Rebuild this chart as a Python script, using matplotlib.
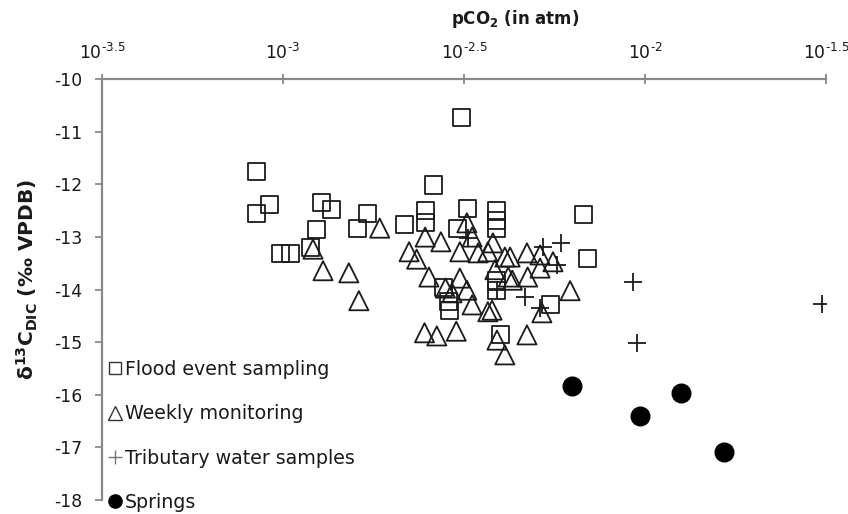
import matplotlib
matplotlib.use("Agg")
import matplotlib.pyplot as plt
from matplotlib.lines import Line2D

plt.rcParams['font.family'] = ['DejaVu Sans']
plt.rcParams['mathtext.fontset'] = 'dejavusans'
plt.rcParams['axes.unicode_minus'] = False

# ---- data (pCO2 in atm, delta13C_DIC in permil VPDB) ----
flood_pco2 = [0.00312, 0.000847, 0.000920, 0.000847, 0.00128, 0.00136, 0.00124,
              0.000982, 0.00105, 0.00119, 0.00171, 0.00161, 0.00217, 0.00261,
              0.00247, 0.00247, 0.00304, 0.00324, 0.00390, 0.00390, 0.00390,
              0.00675, 0.00692, 0.00277, 0.00286, 0.00289, 0.00390, 0.00390,
              0.00547, 0.00400]
flood_d13c = [-10.72, -11.76, -12.39, -12.56, -12.35, -12.47, -12.86,
              -13.32, -13.32, -13.19, -12.56, -12.83, -12.77, -12.01,
              -12.50, -12.73, -12.83, -12.45, -12.50, -12.69, -12.83,
              -12.58, -13.40, -13.95, -14.23, -14.39, -13.82, -14.01,
              -14.29, -14.86]

weekly_pco2 = [0.00185, 0.00121, 0.00129, 0.00152, 0.00162, 0.00223, 0.00234,
               0.00247, 0.00273, 0.00253, 0.00246, 0.00266, 0.00301, 0.00322,
               0.00333, 0.00308, 0.00346, 0.00380, 0.00368, 0.00410, 0.00308,
               0.00281, 0.00293, 0.00322, 0.00333, 0.00368, 0.00385, 0.00419,
               0.00424, 0.00472, 0.00513, 0.00557, 0.00474, 0.00430, 0.00513,
               0.00621, 0.00472, 0.00519, 0.00410, 0.00390, 0.00378]
weekly_d13c = [-12.83, -13.23, -13.64, -13.68, -14.21, -13.28, -13.42,
               -13.00, -13.09, -13.76, -14.82, -14.88, -14.79, -12.73,
               -13.00, -13.28, -13.30, -13.11, -13.28, -13.38, -13.78,
               -13.97, -14.06, -14.01, -14.29, -14.42, -13.62, -13.76,
               -13.38, -13.30, -13.34, -13.47, -13.76, -13.82, -13.59,
               -14.02, -14.86, -14.44, -15.24, -14.96, -14.39]

trib_pco2 = [0.00586, 0.00522, 0.00571, 0.00467, 0.00513, 0.00390, 0.00927,
             0.00951, 0.0308, 0.00324]
trib_d13c = [-13.11, -13.19, -13.53, -14.14, -14.35, -14.01, -13.85,
             -15.01, -14.27, -13.02]

spring_pco2 = [0.00628, 0.00968, 0.01256, 0.01652]
spring_d13c = [-15.83, -16.40, -15.96, -17.09]

series_labels = ["Flood event sampling", "Weekly monitoring",
                 "Tributary water samples", "Springs"]

x_tick_exps = [-3.5, -3, -2.5, -2, -1.5]
x_tick_labels = [r"10$^{\text{-3.5}}$", r"10$^{\text{-3}}$", r"10$^{\text{-2.5}}$",
                 r"10$^{\text{-2}}$", r"10$^{\text{-1.5}}$"]
y_ticks = [-10, -11, -12, -13, -14, -15, -16, -17, -18]

# ---- figure ----
W, H = 848, 514
fig = plt.figure(figsize=(W / 100, H / 100), dpi=100)
ax = fig.add_axes([102 / W, 1 - 500 / H, (826 - 102) / W, (500 - 79.3) / H])

ink = '#1a1a1a'
ax.scatter(flood_pco2, flood_d13c, marker='s', s=150, facecolors='none',
           edgecolors=ink, linewidths=1.3, zorder=3)
ax.scatter(weekly_pco2, weekly_d13c, marker='^', s=190, facecolors='none',
           edgecolors=ink, linewidths=1.3, zorder=3)
ax.scatter(trib_pco2, trib_d13c, marker='+', s=165, color=ink,
           linewidths=1.3, zorder=3)
ax.scatter(spring_pco2, spring_d13c, marker='o', s=180, color='black',
           edgecolors='black', zorder=3)

ax.set_xscale('log')
ax.set_xlim(10 ** -3.5, 10 ** -1.5)
ax.set_ylim(-18, -10)
ax.xaxis.set_ticks_position('top')
ax.set_xticks([10 ** e for e in x_tick_exps])
ax.set_xticklabels(x_tick_labels)
ax.xaxis.set_minor_locator(matplotlib.ticker.NullLocator())
ax.set_yticks(y_ticks)
ax.set_yticklabels([str(v) for v in y_ticks])

spine_col = '#8a8a8a'
for side in ['bottom', 'right']:
    ax.spines[side].set_visible(False)
for side in ['top', 'left']:
    ax.spines[side].set_color(spine_col)
    ax.spines[side].set_linewidth(1.6)
ax.tick_params(axis='x', direction='inout', length=7, width=1.3,
               color=spine_col, labelsize=12.4, pad=8, labelcolor=ink)
ax.tick_params(axis='y', direction='out', length=5, width=1.3,
               color=spine_col, labelsize=12.4, pad=9, labelcolor=ink)
ax.patch.set_visible(False)

fig.text(515 / W, 1 - 19 / H, r"pCO$_\mathbf{2}$ (in atm)", ha='center',
         va='center', fontsize=12, fontweight='bold', color=ink)
fig.text(27 / W, 1 - 279 / H, r"δ$^\mathbf{13}$C$_\mathbf{DIC}$ (‰ VPDB)",
         ha='center', va='center', rotation=90, fontsize=14.5,
         fontweight='bold', color=ink)

leg_col = '#333333'
handles = [
    Line2D([], [], linestyle='none', marker='s', markersize=8.5,
           markerfacecolor='none', markeredgecolor=leg_col, markeredgewidth=1.0),
    Line2D([], [], linestyle='none', marker='^', markersize=10,
           markerfacecolor='none', markeredgecolor=leg_col, markeredgewidth=1.0),
    Line2D([], [], linestyle='none', marker='+', markersize=10,
           markeredgecolor='#777777', markeredgewidth=1.0),
    Line2D([], [], linestyle='none', marker='o', markersize=9.5,
           markerfacecolor='black', markeredgecolor='black'),
]
leg = ax.legend(handles, series_labels, loc='lower left',
                bbox_to_anchor=(109.3 / W, 1 - 512 / H), bbox_transform=fig.transFigure,
                frameon=False, fontsize=13.7, handlelength=0.6, handletextpad=0.23,
                labelspacing=1.33, borderaxespad=0, borderpad=0)
for t in leg.get_texts():
    t.set_color(ink)

fig.savefig('out.png', dpi=100)
